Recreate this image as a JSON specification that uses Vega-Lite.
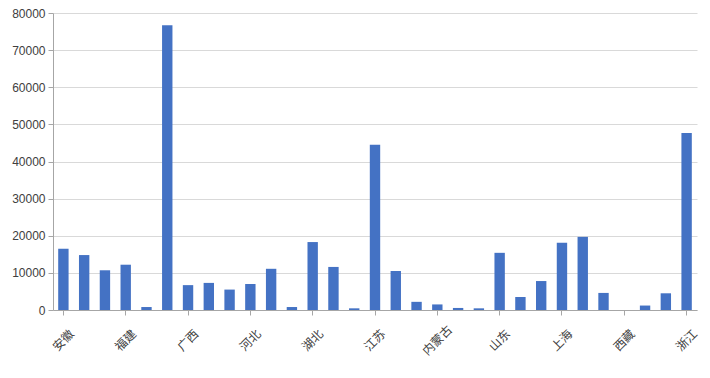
{
  "$schema": "https://vega.github.io/schema/vega-lite/v6.json",
  "width": 644,
  "height": 297,
  "autosize": {"type": "none"},
  "padding": {"left": 53, "top": 13, "right": 13, "bottom": 68},
  "background": "white",
  "config": {"view": {"stroke": null}},
  "data": {"values": [
    {"province": "安徽", "value": 16500},
    {"province": "北京", "value": 14800},
    {"province": "重庆", "value": 10700},
    {"province": "福建", "value": 12200},
    {"province": "甘肃", "value": 800},
    {"province": "广东", "value": 76700},
    {"province": "广西", "value": 6700},
    {"province": "贵州", "value": 7300},
    {"province": "海南", "value": 5500},
    {"province": "河北", "value": 7000},
    {"province": "河南", "value": 11100},
    {"province": "黑龙江", "value": 800},
    {"province": "湖北", "value": 18300},
    {"province": "湖南", "value": 11600},
    {"province": "吉林", "value": 450},
    {"province": "江苏", "value": 44500},
    {"province": "江西", "value": 10500},
    {"province": "辽宁", "value": 2200},
    {"province": "内蒙古", "value": 1500},
    {"province": "宁夏", "value": 550},
    {"province": "青海", "value": 450},
    {"province": "山东", "value": 15400},
    {"province": "山西", "value": 3500},
    {"province": "陕西", "value": 7800},
    {"province": "上海", "value": 18100},
    {"province": "四川", "value": 19700},
    {"province": "天津", "value": 4600},
    {"province": "西藏", "value": 0},
    {"province": "新疆", "value": 1200},
    {"province": "云南", "value": 4500},
    {"province": "浙江", "value": 47700}
  ]},
  "mark": {"type": "bar", "color": "#4472C4"},
  "encoding": {
    "x": {
      "field": "province",
      "type": "nominal",
      "sort": null,
      "scale": {"paddingInner": 0.5, "paddingOuter": 0.25},
      "axis": {
        "title": null,
        "values": ["安徽", "福建", "广西", "河北", "湖北", "江苏", "内蒙古", "山东", "上海", "西藏", "浙江"],
        "labelAngle": -45,
        "labelAlign": "center",
        "labelBaseline": "middle",
        "labelPadding": 25,
        "labelFont": "Noto Sans CJK SC",
        "labelFontSize": 12,
        "labelColor": "#404040",
        "tickSize": 5,
        "tickColor": "#a6a6a6",
        "domainColor": "#a6a6a6",
        "grid": false
      }
    },
    "y": {
      "field": "value",
      "type": "quantitative",
      "scale": {"domain": [0, 80000], "nice": false},
      "axis": {
        "title": null,
        "values": [0, 10000, 20000, 30000, 40000, 50000, 60000, 70000, 80000],
        "format": "d",
        "labelFont": "Liberation Sans",
        "labelFontSize": 12,
        "labelColor": "#404040",
        "labelPadding": 3,
        "tickSize": 5,
        "tickColor": "#a6a6a6",
        "domainColor": "#a6a6a6",
        "gridColor": "#d9d9d9"
      }
    }
  }
}
